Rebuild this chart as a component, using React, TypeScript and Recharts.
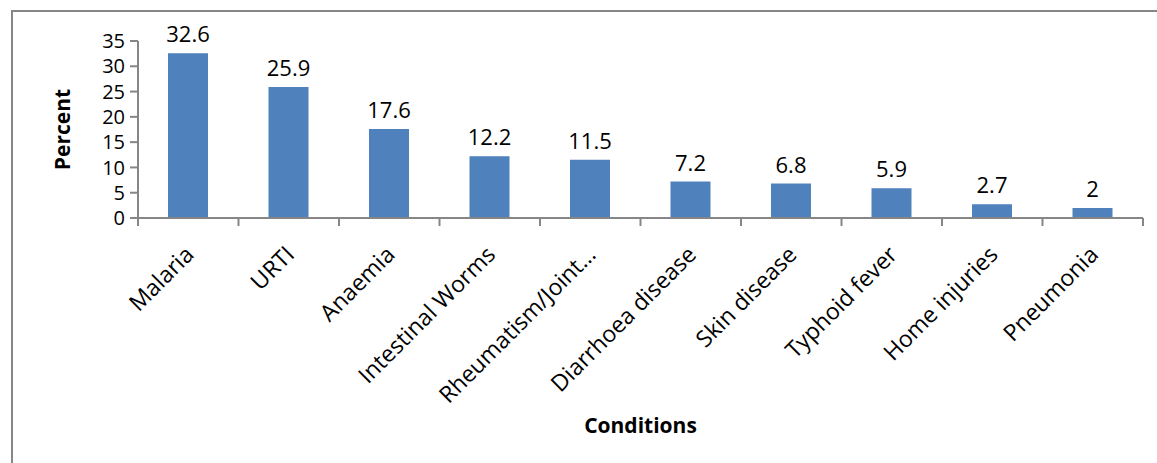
import React from 'react';
import { BarChart, Bar, XAxis, YAxis, LabelList, Label } from 'recharts';

const conditions = [
  'Malaria',
  'URTI',
  'Anaemia',
  'Intestinal Worms',
  'Rheumatism/Joint…',
  'Diarrhoea disease',
  'Skin disease',
  'Typhoid fever',
  'Home injuries',
  'Pneumonia',
];
const percents = [32.6, 25.9, 17.6, 12.2, 11.5, 7.2, 6.8, 5.9, 2.7, 2];
const yTicks = [0, 5, 10, 15, 20, 25, 30, 35];

const data = conditions.map((name, i) => ({ name, value: percents[i] }));

const FONT = '"Open Sans", sans-serif';
const AXIS = '#868686';
const BAND = 100.5; // width of one category slot

const CategoryTick = (props: any) => {
  const { x, y, payload, index } = props;
  const tx = x + 7;
  const ty = y + 30;
  return (
    <g>
      <line x1={x - BAND / 2} y1={y - 8} x2={x - BAND / 2} y2={y} stroke={AXIS} strokeWidth={2} />
      {index === conditions.length - 1 && (
        <line x1={x + BAND / 2} y1={y - 8} x2={x + BAND / 2} y2={y} stroke={AXIS} strokeWidth={2} />
      )}
      <text
        x={tx}
        y={ty}
        transform={`rotate(-45 ${tx} ${ty})`}
        textAnchor="end"
        fontFamily={FONT}
        fontSize={23}
        fill="#000"
      >
        {payload.value}
      </text>
    </g>
  );
};

const App: React.FC = () => {
  return (
    <div style={{ position: 'absolute', left: 0, top: 0, width: 1157, height: 463, overflow: 'hidden', background: '#fff' }}>
      <div
        style={{
          position: 'absolute',
          left: 11,
          top: 10,
          width: 1250,
          height: 550,
          border: `2px solid ${AXIS}`,
        }}
      />
      <div style={{ position: 'absolute', left: 0, top: 0 }}>
        <BarChart
          width={1157}
          height={463}
          data={data}
          margin={{ top: 41, right: 14, left: 78, bottom: 30 }}
          barSize={40}
        >
          <XAxis
            dataKey="name"
            interval={0}
            height={215}
            axisLine={{ stroke: AXIS, strokeWidth: 2 }}
            tickLine={false}
            tick={<CategoryTick />}
          >
            <Label
              value="Conditions"
              position="insideBottom"
              offset={0}
              style={{ fontFamily: FONT, fontSize: 21, fontWeight: 700, fill: '#000' }}
            />
          </XAxis>
          <YAxis
            domain={[0, 35]}
            ticks={yTicks}
            width={60}
            interval={0}
            axisLine={{ stroke: AXIS, strokeWidth: 2 }}
            tickLine={{ stroke: AXIS, strokeWidth: 2 }}
            tickSize={8}
            tickMargin={5}
            tick={{ fontFamily: FONT, fontSize: 20, fill: '#000' }}
          >
            <Label
              content={() => (
                <text
                  x={70}
                  y={129.5}
                  transform="rotate(-90 70 129.5)"
                  textAnchor="middle"
                  fontFamily={FONT}
                  fontSize={21}
                  fontWeight={700}
                  fill="#000"
                >
                  Percent
                </text>
              )}
            />
          </YAxis>
          <Bar dataKey="value" fill="#4F81BD" isAnimationActive={false}>
            <LabelList
              dataKey="value"
              position="top"
              offset={11}
              style={{ fontFamily: FONT, fontSize: 22, fill: '#000' }}
            />
          </Bar>
        </BarChart>
      </div>
    </div>
  );
};

export default App;
